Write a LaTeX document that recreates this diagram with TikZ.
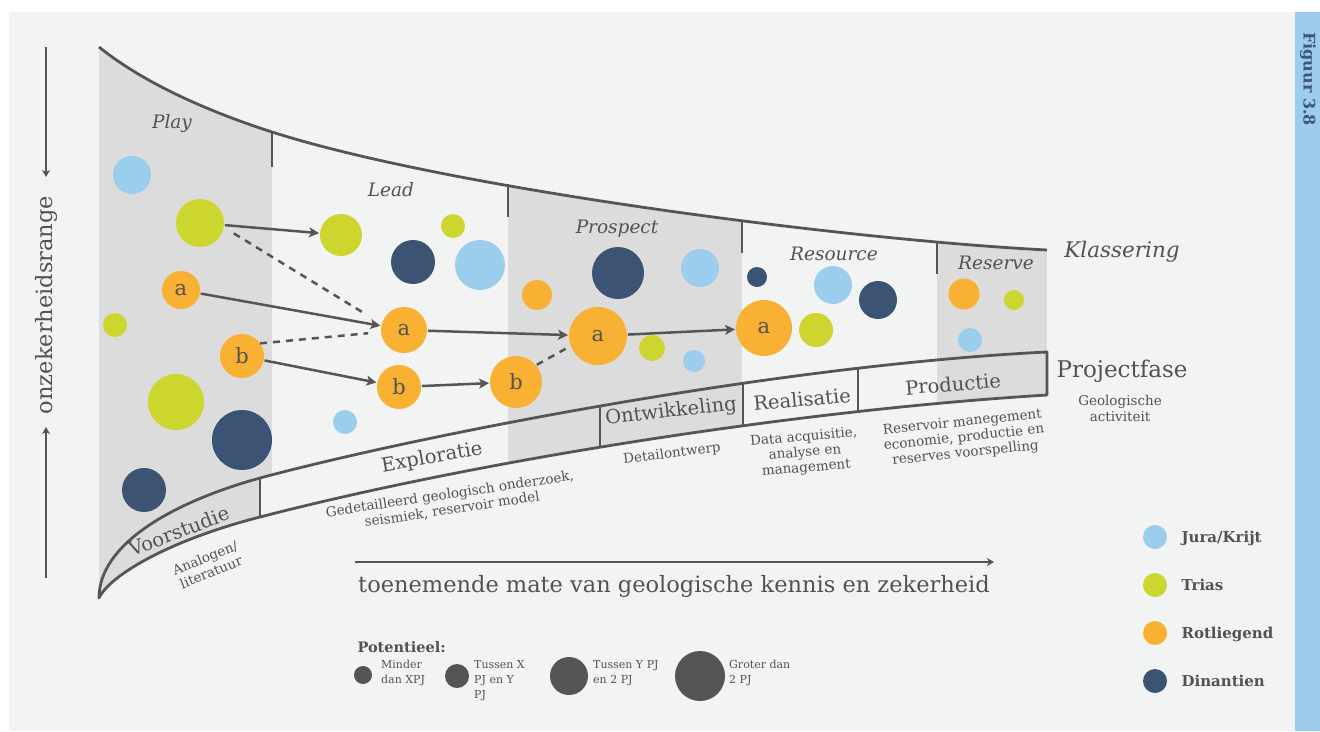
\documentclass[tikz,border=0pt]{standalone}
\usepackage{fontspec}
\setmainfont{DejaVu Serif}
\usetikzlibrary{arrows.meta}
\newcommand\fsz[1]{\fontsize{#1}{#1}\selectfont}
\newcommand\fszl[2]{\fontsize{#1}{#2}\selectfont}
\definecolor{panel}{HTML}{F2F3F3}
\definecolor{colgray}{HTML}{DCDCDC}
\definecolor{lc}{HTML}{555555}
\definecolor{txt}{HTML}{525252}
\definecolor{cjk}{HTML}{9BCDEC}
\definecolor{ctr}{HTML}{CDD62E}
\definecolor{crl}{HTML}{F8B133}
\definecolor{cdi}{HTML}{3B5473}
\definecolor{strip}{HTML}{9DCDED}
\definecolor{figc}{HTML}{3F5676}
\tikzset{
  ln/.style={draw=lc, line width=2.8pt, line join=round},
  bub/.style={circle, inner sep=0pt, outer sep=0pt, minimum size=#1},
  jk/.style={bub=#1, fill=cjk},
  tr/.style={bub=#1, fill=ctr},
  rl/.style={bub=#1, fill=crl, font=\fsz{21}},
  di/.style={bub=#1, fill=cdi},
  pot/.style={bub=#1, fill=lc},
  arr/.style={draw=lc, line width=2.5pt, -{Stealth[length=10pt,width=10pt,inset=2.5pt]}, shorten <=1pt, shorten >=1pt},
  dsh/.style={draw=lc, line width=2.5pt, dash pattern=on 7pt off 6pt},
  axarr/.style={draw=lc, line width=2.2pt, -{Stealth[length=7pt,width=8pt,inset=2pt]}},
  coltit/.style={font=\itshape\fsz{18.5}},
  bandtit/.style={font=\fsz{19.5}},
  bandsub/.style={font=\fszl{13.5}{15.5}, align=center},
  leg/.style={font=\bfseries\fsz{15}, anchor=base west},
  pott/.style={font=\fszl{11}{15}, anchor=north west, align=left, inner sep=0pt},
}
\begin{document}
\begin{tikzpicture}[x=1pt,y=-1pt, every node/.append style={text=txt}]
\useasboundingbox (0,0) rectangle (1320,731);
\fill[white] (0,0) rectangle (1320,731);
\fill[panel] (9,12) rectangle (1295,731);
\fill[strip] (1295,12) rectangle (1320,731);
\node[rotate=-90, font=\bfseries\fsz{16}, text=figc] (fig) at (1308,79) {Figuur 3.8};

% gray columns clipped to the funnel
\begin{scope}
\clip (99,47) .. controls (145,84) and (210,112) .. (272,132) .. controls (450,189) and (850,240) .. (1047,250) -- (1047,395) .. controls (800,410) and (480,460) .. (260,517) .. controls (170,540) and (110,575) .. (99,598) -- cycle;
\fill[colgray] (99,0) rectangle (272,731);
\fill[colgray] (508,0) rectangle (742,731);
\fill[colgray] (937,0) rectangle (1047,731);
\begin{scope}
\clip (99,598) .. controls (99,545) and (170,503) .. (260,478) .. controls (420,435) and (780,365) .. (1047,352) -- (1047,395) .. controls (800,410) and (480,460) .. (260,517) .. controls (170,540) and (110,575) .. (99,598) -- cycle;
\fill[panel] (260,0) rectangle (272,731);
\end{scope}
\end{scope}

% top curve and dividers
\draw[ln] (99,47) .. controls (145,84) and (210,112) .. (272,132) .. controls (450,189) and (850,240) .. (1047,250);
\draw[ln] (272,132) -- (272,167);
\draw[ln] (508,184) -- (508,217);
\draw[ln] (742,221) -- (742,253);
\draw[ln] (937,242) -- (937,274);

% band
\draw[ln] (99,598) .. controls (99,545) and (170,503) .. (260,478) .. controls (420,435) and (780,365) .. (1047,352) -- (1047,395) .. controls (800,410) and (480,460) .. (260,517) .. controls (170,540) and (110,575) .. (99,598) -- cycle;
\draw[ln] (260,478) -- (260,517);
\draw[ln] (600,406) -- (600,447);
\draw[ln] (743,383) -- (743,426);
\draw[ln] (858,368) -- (858,412);

% column titles
\node[coltit] (tplay) at (172,124) {Play};
\node[coltit] (tlead) at (391,190) {Lead};
\node[coltit] (tpros) at (617,229) {Prospect};
\node[coltit] (tres) at (834,254) {Resource};
\node[coltit] (tresv) at (996,263) {Reserve};
\node[font=\itshape\fsz{21.5}] (tklas) at (1122,252) {Klassering};
\node[font=\fsz{23}] (tproj) at (1122,371) {Projectfase};
\node[font=\fszl{13.5}{16}, align=center] (tgeo) at (1120,408) {Geologische\\activiteit};

% band titles and subtitles
\node[bandtit, rotate=21] (bvoor) at (179,531) {Voorstudie};
\node[bandsub, rotate=22] (svoor) at (208,565) {Analogen/\\literatuur};
\node[bandtit, rotate=10] (bexp) at (432,458) {Exploratie};
\node[bandsub, rotate=8.5] (sexp) at (451,502) {Gedetailleerd geologisch onderzoek,\\seismiek, reservoir model};
\node[bandtit, rotate=6.5] (bont) at (671,412) {Ontwikkeling};
\node[bandsub, rotate=7] (sont) at (672,454) {Detailontwerp};
\node[bandtit, rotate=5] (breal) at (802,399) {Realisatie};
\node[bandsub, rotate=5] (sreal) at (805,453) {Data acquisitie,\\analyse en\\management};
\node[bandtit, rotate=4.5] (bprod) at (953,384) {Productie};
\node[bandsub, rotate=6] (sprod) at (964,438) {Reservoir manegement\\economie, productie en\\reserves voorspelling};

% Play bubbles
\node[jk=38pt] (p1) at (132,175) {};
\node[tr=48pt] (pg) at (200,223) {};
\node[rl=38pt] (pa) at (181,290) {a};
\node[tr=24pt] (p4) at (115,325) {};
\node[rl=44pt] (pb) at (242,356) {b};
\node[tr=56pt] (p6) at (176,402) {};
\node[di=60pt] (p7) at (242,440) {};
\node[di=44pt] (p8) at (144,490) {};

% Lead bubbles
\node[tr=42pt] (lg) at (341,235) {};
\node[tr=24pt] (l2) at (453,226) {};
\node[di=44pt] (l3) at (413,262) {};
\node[jk=50pt] (l4) at (480,265) {};
\node[rl=46pt] (la) at (404,330) {a};
\node[rl=44pt] (lb) at (399,387) {b};
\node[jk=24pt] (l7) at (345,422) {};

% Prospect bubbles
\node[di=52pt] (q1) at (618,273) {};
\node[jk=38pt] (q2) at (700,268) {};
\node[rl=30pt] (q3) at (537,295) {};
\node[rl=58pt] (qa) at (598,336) {a};
\node[rl=52pt] (qb) at (516,382) {b};
\node[tr=26pt] (q6) at (652,348) {};
\node[jk=22pt] (q7) at (694,361) {};

% Resource bubbles
\node[di=20pt] (r1) at (757,277) {};
\node[jk=38pt] (r2) at (833,285) {};
\node[di=38pt] (r3) at (878,300) {};
\node[rl=56pt] (ra) at (764,328) {a};
\node[tr=34pt] (r5) at (816,330) {};

% Reserve bubbles
\node[rl=31pt] (v1) at (964,294) {};
\node[tr=20pt] (v2) at (1014,300) {};
\node[jk=24pt] (v3) at (970,340) {};

% connectors
\draw[arr] (pg) -- (lg);
\draw[dsh, shorten <=12pt, shorten >=20pt] (pg.-10) -- (la.165);
\draw[arr] (pa) -- (la);
\draw[dsh, shorten >=13pt] (pb.35) -- (la.185);
\draw[arr] (pb) -- (lb);
\draw[arr] (lb) -- (qb);
\draw[arr] (la) -- (qa);
\draw[dsh, shorten <=1pt, shorten >=4pt] (qb.40) -- (qa.200);
\draw[arr] (qa) -- (ra);

% axes
\coordinate (ya1) at (46,47);
\coordinate (ya2) at (46,177);
\coordinate (yb1) at (46,578);
\coordinate (yb2) at (46,427);
\draw[axarr] (ya1) -- (ya2);
\draw[axarr] (yb1) -- (yb2);
\node[rotate=90, font=\fsz{22.5}] (ylab) at (46,305) {onzekerheidsrange};
\coordinate (xa1) at (355,562);
\coordinate (xa2) at (994,562);
\draw[axarr] (xa1) -- (xa2);
\node[font=\fsz{22.5}] (xlab) at (674,586) {toenemende mate van geologische kennis en zekerheid};

% right legend
\node[jk=24pt] (kj) at (1155,537) {};
\node[tr=24pt] (kt) at (1155,585) {};
\node[rl=24pt] (kr) at (1155,633) {};
\node[di=24pt] (kd) at (1155,681) {};
\node[leg] (tj) at (1178,542.5) {Jura/Krijt};
\node[leg] (tt) at (1178,590.5) {Trias};
\node[leg] (trl) at (1178,638.5) {Rotliegend};
\node[leg] (td) at (1178,686.5) {Dinantien};

% potential legend
\node[font=\bfseries\fsz{14.5}, anchor=base west] (tpot) at (354,652) {Potentieel:};
\node[pot=18pt] (o1) at (363,675) {};
\node[pot=24pt] (o2) at (457,676) {};
\node[pot=38pt] (o3) at (569,676) {};
\node[pot=50pt] (o4) at (700,676) {};
\node[pott] (to1) at (381,660) {Minder\\dan XPJ};
\node[pott] (to2) at (474,660) {Tussen X\\PJ en Y\\PJ};
\node[pott] (to3) at (593,660) {Tussen Y PJ\\en 2 PJ};
\node[pott] (to4) at (729,660) {Groter dan\\2 PJ};
\end{tikzpicture}
\end{document}
